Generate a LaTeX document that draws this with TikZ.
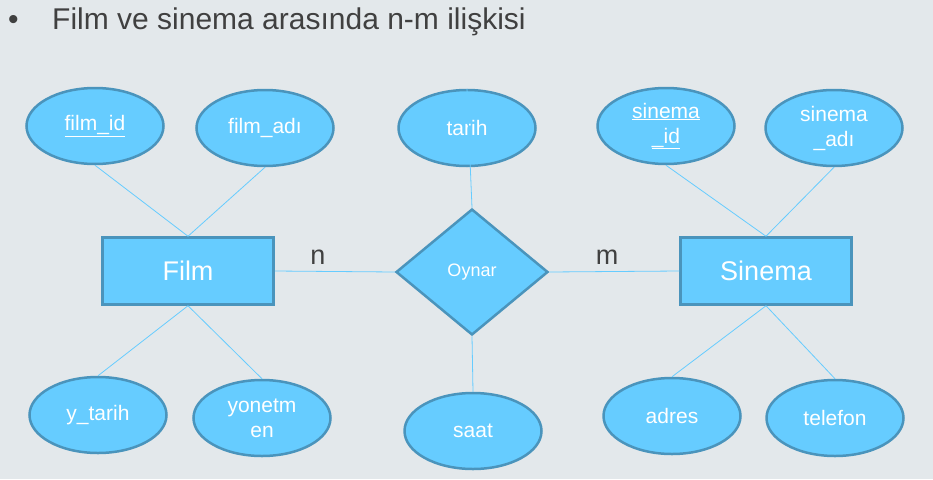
\documentclass[tikz,border=0pt]{standalone}
\usepackage{fontspec}
\setmainfont{Liberation Sans}
\usetikzlibrary{shapes.geometric}
\definecolor{erfill}{RGB}{102,204,255}
\definecolor{erborder}{RGB}{74,148,188}
\definecolor{bgcol}{RGB}{227,232,235}
\definecolor{textgray}{RGB}{64,64,64}
\begin{document}
\begin{tikzpicture}[x=1pt, y=-1pt,
		entity/.style={rectangle, draw=erborder, fill=erfill, line width=2.5pt, minimum width=171pt, minimum height=67pt, text=white, font=\fontsize{27}{30}\selectfont},
		attr/.style={ellipse, draw=erborder, fill=erfill, line width=2.5pt, minimum width=137pt, minimum height=76pt, inner sep=0pt, text=white, align=center, font=\fontsize{21}{25}\selectfont},
		rel/.style={diamond, draw=erborder, fill=erfill, line width=2.5pt, minimum width=152pt, minimum height=126pt, inner sep=0pt, text=white, font=\fontsize{18}{20}\selectfont},
		conn/.style={draw=erfill, line width=0.8pt},
		card/.style={text=textgray, font=\fontsize{27}{30}\selectfont}]
		\fill[bgcol] (0,0) rectangle (933,479);
		\node[anchor=base west, text=textgray, font=\fontsize{30}{34}\selectfont, inner sep=0pt] (bullet) at (8,29) {•};
		\node[anchor=base west, text=textgray, font=\fontsize{30}{34}\selectfont, inner sep=0pt] (title) at (52,29) {Film ve sinema arasında n-m ilişkisi};
		\node[entity] (film) at (188,271) {Film};
		\node[entity] (sinema) at (766,271) {Sinema};
		\node[rel] (oynar) at (472,272) {Oynar};
		\node[attr] (filmid) at (95,126) {\underline{film\_id}};
		\node[attr] (filmadi) at (265,128) {film\_adı};
		\node[attr] (ytarih) at (98,415) {y\_tarih};
		\node[attr] (yonetmen) at (262,418) {yonetm\\en};
		\node[attr] (tarih) at (467,128) {tarih};
		\node[attr] (saat) at (473,431) {saat};
		\node[attr] (sinemaid) at (666,126) {\underline{sinema}\\\underline{\_id}};
		\node[attr] (sinemaadi) at (834,128) {sinema\\\_adı};
		\node[attr] (adres) at (672,416) {adres};
		\node[attr] (telefon) at (835,418) {telefon};
		\foreach \a/\b in {filmid/film, filmadi/film, sinemaid/sinema, sinemaadi/sinema}{
		  \draw[conn] (\a.south) -- (\b.north);
		}
		\foreach \a/\b in {ytarih/film, yonetmen/film, adres/sinema, telefon/sinema}{
		  \draw[conn] (\a.north) -- (\b.south);
		}
		\draw[conn] (tarih.north) -- (oynar.north);
		\draw[conn] (oynar.south) -- (saat.north);
		\draw[conn] (film.east) -- (oynar.west);
		\draw[conn] (oynar.east) -- (sinema.west);
		\node[card] (nlabel) at (318,257) {n};
		\node[card] (mlabel) at (607,257) {m};
	\end{tikzpicture}
\end{document}
